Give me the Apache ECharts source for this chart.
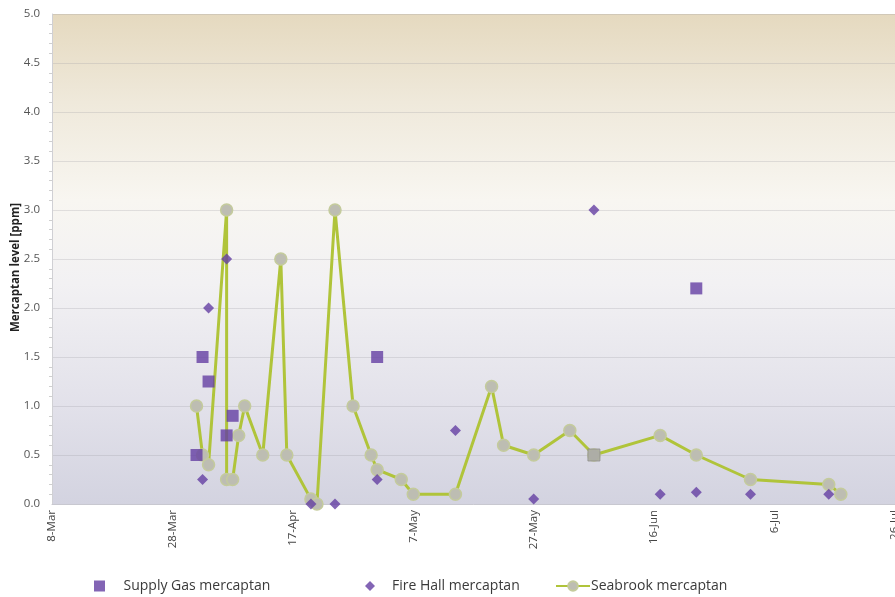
<!DOCTYPE html>
<html>
<head>
<meta charset="utf-8">
<script src="https://cdn.jsdelivr.net/npm/echarts@6/dist/echarts.min.js"></script>
<style>
  html, body { margin: 0; padding: 0; background: #ffffff; }
  #chart { width: 895px; height: 597px; }
</style>
</head>
<body>
<div id="chart"></div>
<script>
// Sampling start; x positions are days since this date.
const startDate = '2012-03-08';
const xTickLabels = ['8-Mar', '28-Mar', '17-Apr', '7-May', '27-May', '16-Jun', '6-Jul', '26-Jul'];
const yTickLabels = ['0.0', '0.5', '1.0', '1.5', '2.0', '2.5', '3.0', '3.5', '4.0', '4.5', '5.0'];

const supplyDates  = ['2012-04-01', '2012-04-02', '2012-04-03', '2012-04-06', '2012-04-07', '2012-05-01', '2012-06-06', '2012-06-23'];
const supplyValues = [0.5, 1.5, 1.25, 0.7, 0.9, 1.5, 0.5, 2.2];

const fireHallDates  = ['2012-04-02', '2012-04-03', '2012-04-06', '2012-04-20', '2012-04-24', '2012-05-01', '2012-05-14', '2012-05-27', '2012-06-06', '2012-06-17', '2012-06-23', '2012-07-02', '2012-07-15'];
const fireHallValues = [0.25, 2.0, 2.5, 0.0, 0.0, 0.25, 0.75, 0.05, 3.0, 0.1, 0.12, 0.1, 0.1];

const seabrookDates  = ['2012-04-01', '2012-04-02', '2012-04-03', '2012-04-06', '2012-04-06', '2012-04-07', '2012-04-08', '2012-04-09', '2012-04-12', '2012-04-15', '2012-04-16', '2012-04-20', '2012-04-21', '2012-04-24', '2012-04-27', '2012-04-30', '2012-05-01', '2012-05-05', '2012-05-07', '2012-05-14', '2012-05-20', '2012-05-22', '2012-05-27', '2012-06-02', '2012-06-06', '2012-06-17', '2012-06-23', '2012-07-02', '2012-07-15', '2012-07-17'];
const seabrookValues = [1.0, 0.5, 0.4, 3.0, 0.25, 0.25, 0.7, 1.0, 0.5, 2.5, 0.5, 0.05, 0.0, 3.0, 1.0, 0.5, 0.35, 0.25, 0.1, 0.1, 1.2, 0.6, 0.5, 0.75, 0.5, 0.7, 0.5, 0.25, 0.2, 0.1];

const DAY_MS = 86400000;
function dayOffset(d) {
  return Math.round((Date.parse(d) - Date.parse(startDate)) / DAY_MS);
}
function pairs(dates, values) {
  return dates.map((d, i) => [dayOffset(d), values[i]]);
}

const PURPLE = '#643ea3';
const GREEN = '#b0c43a';
const FONT = '"Open Sans", "Liberation Sans", sans-serif';

// The 6-Jun supply-gas sample shares its spot with a Seabrook reading and is drawn in grey.
const supplyData = pairs(supplyDates, supplyValues).map((p, i) =>
  supplyDates[i] === '2012-06-06'
    ? { value: p, itemStyle: { color: '#a9a9a2', borderColor: '#8f8f88', borderWidth: 1 } }
    : p
);

const chart = echarts.init(document.getElementById('chart'), null, { renderer: 'canvas' });

chart.setOption({
  animation: false,
  backgroundColor: '#ffffff',
  grid: {
    left: 52, right: 0, top: 14, bottom: 93,
    outerBoundsMode: 'none',
    containLabel: false,
    show: true,
    borderWidth: 0,
    backgroundColor: new echarts.graphic.LinearGradient(0, 0, 0, 1, [
      { offset: 0.00, color: '#e5d9bf' },
      { offset: 0.18, color: '#efe9db' },
      { offset: 0.38, color: '#f8f6f1' },
      { offset: 0.55, color: '#f2f1f3' },
      { offset: 0.80, color: '#e2e1ea' },
      { offset: 1.00, color: '#d3d3e0' }
    ])
  },
  xAxis: {
    type: 'value',
    min: 0, max: 140, interval: 20,
    axisLine: { show: true, lineStyle: { color: '#c8c8d0', width: 1 } },
    axisTick: { show: false },
    splitLine: { show: false },
    axisLabel: {
      rotate: 90,
      margin: 6,
      color: '#444444',
      fontFamily: FONT,
      fontSize: 11.5,
      hideOverlap: false,
      formatter: v => xTickLabels[Math.round(v / 20)]
    }
  },
  yAxis: {
    type: 'value',
    min: 0, max: 5, interval: 0.5,
    axisLine: { show: true, lineStyle: { color: '#d0d0d4' } },
    axisTick: { show: false },
    minorTick: { show: true, splitNumber: 5, length: 3, lineStyle: { color: '#cfcfcf' } },
    splitLine: { show: true, lineStyle: { color: 'rgba(150,150,160,0.25)', width: 1 } },
    axisLabel: {
      margin: 12,
      color: '#555555',
      fontFamily: FONT,
      fontSize: 11.5,
      formatter: v => yTickLabels[Math.round(v / 0.5)]
    }
  },
  graphic: [{
    type: 'text',
    left: 10,
    top: 203,
    rotation: Math.PI / 2,
    style: {
      text: 'Mercaptan level [ppm]',
      fill: '#222222',
      font: 'bold 11.5px ' + FONT
    }
  }],
  legend: [
    {
      data: [{ name: 'Supply Gas mercaptan', icon: 'path://M0,0H10V10H0Z' }],
      left: 89, top: 574,
      itemWidth: 38, itemHeight: 11,
      symbolKeepAspect: true,
      textStyle: { color: '#3a3a3a', fontFamily: FONT, fontSize: 14 }
    },
    {
      data: [{ name: 'Fire Hall mercaptan', icon: 'path://M5,0L10,5L5,10L0,5Z' }],
      left: 360, top: 574,
      itemWidth: 34, itemHeight: 10,
      symbolKeepAspect: true,
      textStyle: { color: '#3a3a3a', fontFamily: FONT, fontSize: 14 }
    },
    {
      data: ['Seabrook mercaptan'],
      left: 550, top: 574,
      itemWidth: 34, itemHeight: 12,
      itemGap: 0,
      textStyle: { color: '#3a3a3a', fontFamily: FONT, fontSize: 14, padding: [0, 0, 0, -4] }
    }
  ],
  series: [
    {
      name: 'Seabrook mercaptan',
      type: 'line',
      data: pairs(seabrookDates, seabrookValues),
      symbol: 'circle',
      symbolSize: 12,
      showAllSymbol: true,
      z: 2,
      lineStyle: { color: GREEN, width: 3 },
      itemStyle: { color: '#bdbdb2', borderColor: '#c4cb9c', borderWidth: 1.5 }
    },
    {
      name: 'Fire Hall mercaptan',
      type: 'scatter',
      data: pairs(fireHallDates, fireHallValues),
      symbol: 'diamond',
      symbolSize: 11,
      z: 4,
      itemStyle: { color: PURPLE }
    },
    {
      name: 'Supply Gas mercaptan',
      type: 'scatter',
      data: supplyData,
      symbol: 'rect',
      symbolSize: 12,
      z: 5,
      itemStyle: { color: PURPLE }
    }
  ]
});
</script>
</body>
</html>
